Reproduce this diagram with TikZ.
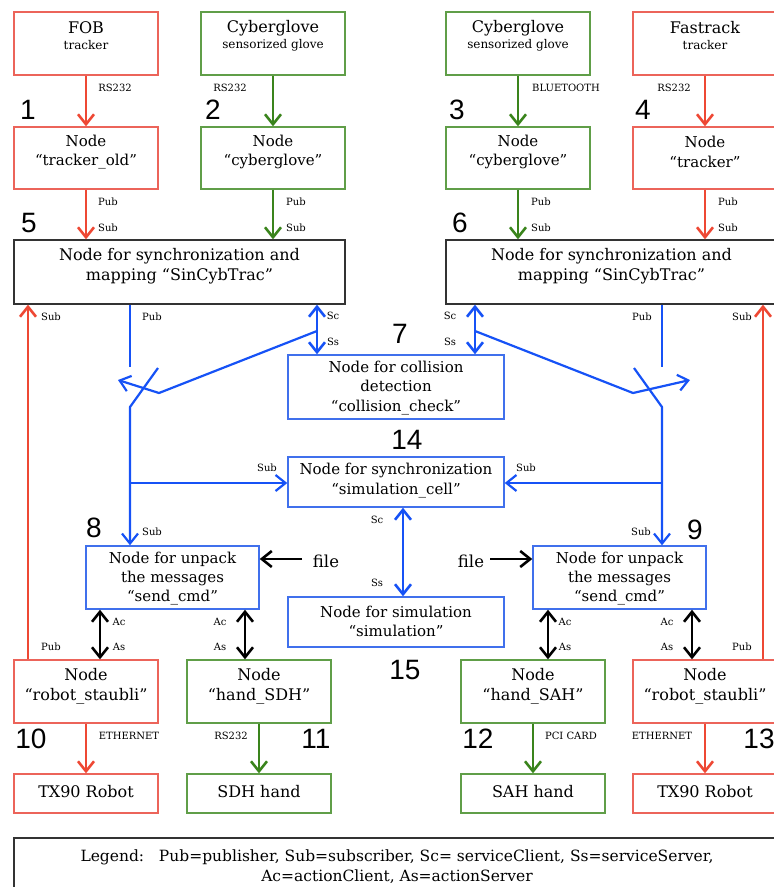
\documentclass[tikz,border=0pt]{standalone}
\usepackage{fontspec}
\setmainfont{DejaVu Serif}
\newfontfamily\numfont{Liberation Sans}
\usetikzlibrary{arrows.meta}
\definecolor{redA}{RGB}{238,72,52}
\definecolor{redB}{RGB}{236,100,90}
\definecolor{greenA}{RGB}{58,132,28}
\definecolor{greenB}{RGB}{96,158,72}
\definecolor{blueA}{RGB}{22,82,246}
\definecolor{blueB}{RGB}{64,112,236}
\tikzset{
 bx/.style={draw, line width=1.3pt, minimum width=144pt, minimum height=63pt, inner sep=0pt},
 rbox/.style={bx, draw=redB},
 gbox/.style={bx, draw=greenB},
 bbox/.style={bx, draw=blueB, line width=1.4pt},
 kbox/.style={draw=black!80, line width=1.3pt, inner sep=0pt},
 txt/.style={align=center, font=\fontsize{15}{19.5}\selectfont, inner sep=0pt},
 bigtxt/.style={align=center, font=\fontsize{16}{20}\selectfont, inner sep=0pt},
 ttl/.style={font=\fontsize{16}{18}\selectfont, inner sep=0pt},
 subtxt/.style={font=\fontsize{12}{13}\selectfont, inner sep=0pt},
 lab/.style={font=\fontsize{10}{12}\selectfont, inner sep=0pt},
 num/.style={font=\numfont\fontsize{28}{30}\selectfont, inner sep=0pt},
 legtxt/.style={align=center, font=\fontsize{15.5}{20}\selectfont, inner sep=0pt},
 arr/.style={-{Straight Barb[length=10pt,width=16pt]}},
 darr/.style={{Straight Barb[length=10pt,width=16pt]}-{Straight Barb[length=10pt,width=16pt]}},
 conn/.style={line width=2.6pt, line cap=butt},
}
\begin{document}
\begin{tikzpicture}[x=1pt,y=-1pt]
\useasboundingbox (0,0) rectangle (774,887);
% ---------- top row
\node[rbox] (fob) at (86,43.5) {};
\node[gbox] (cgL) at (273,43.5) {};
\node[gbox] (cgR) at (518,43.5) {};
\node[rbox] (fast) at (705,43.5) {};
\node[ttl] (fobT) at (86,28) {FOB};
\node[subtxt] (fobS) at (86,45) {tracker};
\node[ttl] (cgLT) at (273,28) {Cyberglove};
\node[subtxt] (cgLS) at (273,45) {sensorized glove};
\node[ttl] (cgRT) at (518,28) {Cyberglove};
\node[subtxt] (cgRS) at (518,45) {sensorized glove};
\node[ttl] (fastT) at (705,28) {Fastrack};
\node[subtxt] (fastS) at (705,45) {tracker};
% ---------- second row
\node[rbox, minimum height=62pt] (trOld) at (86,158) {};
\node[gbox, minimum height=62pt] (cybL) at (273,158) {};
\node[gbox, minimum height=62pt] (cybR) at (518,158) {};
\node[rbox, minimum height=62pt] (trk) at (705,158) {};
\node[txt] (trOldT) at (86,152) {Node\\“tracker\_old”};
\node[txt] (cybLT) at (273,152) {Node\\“cyberglove”};
\node[txt] (cybRT) at (518,152) {Node\\“cyberglove”};
\node[txt] (trkT) at (705,152) {Node\\“tracker”};
% ---------- sync boxes
\node[kbox, minimum width=331pt, minimum height=64pt] (syncL) at (179.5,272) {};
\node[kbox, minimum width=331pt, minimum height=64pt] (syncR) at (611.5,272) {};
\node[bigtxt] (syncLT) at (179.5,266) {Node for synchronization and\\mapping “SinCybTrac”};
\node[bigtxt] (syncRT) at (611.5,266) {Node for synchronization and\\mapping “SinCybTrac”};
% ---------- middle boxes
\node[bbox, minimum width=216pt, minimum height=64pt] (coll) at (396,387) {};
\node[txt] (collT) at (396,388) {Node for collision\\detection\\“collision\_check”};
\node[bbox, minimum width=216pt, minimum height=50pt] (cell) at (396,482) {};
\node[txt] (cellT) at (396,480.5) {Node for synchronization\\“simulation\_cell”};
\node[bbox, minimum width=216pt, minimum height=50pt] (sim) at (396,622) {};
\node[txt] (simT) at (396,621.5) {Node for simulation\\“simulation”};
\node[bbox, minimum width=173pt, minimum height=63pt] (sendL) at (172.5,577.5) {};
\node[bbox, minimum width=173pt, minimum height=63pt] (sendR) at (619.5,577.5) {};
\node[txt, font=\fontsize{15}{19}\selectfont] (sendLT) at (172.5,579) {Node for unpack\\the messages\\“send\_cmd”};
\node[txt, font=\fontsize{15}{19}\selectfont] (sendRT) at (619.5,579) {Node for unpack\\the messages\\“send\_cmd”};
% ---------- fourth row
\node[rbox] (robL) at (86,691.5) {};
\node[gbox] (sdh) at (259,691.5) {};
\node[gbox] (sah) at (533,691.5) {};
\node[rbox] (robR) at (705,691.5) {};
\node[bigtxt] (robLT) at (86,686) {Node\\“robot\_staubli”};
\node[bigtxt] (sdhT) at (259,686) {Node\\“hand\_SDH”};
\node[bigtxt] (sahT) at (533,686) {Node\\“hand\_SAH”};
\node[bigtxt] (robRT) at (705,686) {Node\\“robot\_staubli”};
% ---------- bottom row
\node[rbox, minimum height=39pt] (txL) at (86,793.5) {};
\node[gbox, minimum height=39pt] (sdhh) at (259,793.5) {};
\node[gbox, minimum height=39pt] (sahh) at (533,793.5) {};
\node[rbox, minimum height=39pt] (txR) at (705,793.5) {};
\node[bigtxt] (txLT) at (86,792) {TX90 Robot};
\node[bigtxt] (sdhhT) at (259,792) {SDH hand};
\node[bigtxt] (sahhT) at (533,792) {SAH hand};
\node[bigtxt] (txRT) at (705,792) {TX90 Robot};
% ---------- legend
\node[kbox, minimum width=780pt, minimum height=70pt] (leg) at (404,873) {};
\node[legtxt] (legT) at (397,867) {Legend:\ \ \ Pub=publisher, Sub=subscriber, Sc= serviceClient, Ss=serviceServer,\\Ac=actionClient, As=actionServer};
% ---------- numbers
\node[num] (n1) at (28,110) {1};
\node[num] (n2) at (213,110) {2};
\node[num] (n3) at (457,110) {3};
\node[num] (n4) at (643,110) {4};
\node[num] (n5) at (29,223) {5};
\node[num] (n6) at (460,223) {6};
\node[num] (n7) at (400,334) {7};
\node[num] (n14) at (407,440) {14};
\node[num] (n8) at (94,528) {8};
\node[num] (n9) at (695,530) {9};
\node[num] (n15) at (405,670) {15};
\node[num] (n10) at (31,739) {10};
\node[num] (n11) at (316,739) {11};
\node[num] (n12) at (478,739) {12};
\node[num] (n13) at (759,739) {13};
% ---------- top connectors
\draw[conn, redA, arr] (fob.south) -- (trOld.north);
\draw[conn, greenA, arr] (cgL.south) -- (cybL.north);
\draw[conn, greenA, arr] (cgR.south) -- (cybR.north);
\draw[conn, redA, arr] (fast.south) -- (trk.north);
\draw[conn, redA, arr] (trOld.south) -- (trOld.south |- syncL.north);
\draw[conn, greenA, arr] (cybL.south) -- (cybL.south |- syncL.north);
\draw[conn, greenA, arr] (cybR.south) -- (cybR.south |- syncR.north);
\draw[conn, redA, arr] (trk.south) -- (trk.south |- syncR.north);
\node[lab] (l1) at (115,88) {RS232};
\node[lab] (l2) at (230,88) {RS232};
\node[lab] (l3) at (566,88) {BLUETOOTH};
\node[lab] (l4) at (674,88) {RS232};
\node[lab] (p1) at (108,202) {Pub};
\node[lab] (s1) at (108,228) {Sub};
\node[lab] (p2) at (296,202) {Pub};
\node[lab] (s2) at (296,228) {Sub};
\node[lab] (p3) at (541,202) {Pub};
\node[lab] (s3) at (541,228) {Sub};
\node[lab] (p4) at (728,202) {Pub};
\node[lab] (s4) at (728,228) {Sub};
% ---------- long red feedback
\draw[conn, redA, arr] ([xshift=-58pt]robL.north) -- ([xshift=-58pt]robL.north |- syncL.south);
\draw[conn, redA, arr] ([xshift=58pt]robR.north) -- ([xshift=58pt]robR.north |- syncR.south);
\node[lab] (sL) at (51,317) {Sub};
\node[lab] (sR) at (742,317) {Sub};
\node[lab] (pL) at (51,647) {Pub};
\node[lab] (pR) at (742,647) {Pub};
% ---------- blue network, left
\coordinate (scL) at (317,331);
\coordinate (bendL) at (159,393);
\coordinate (tipL) at (118,380);
\coordinate (pubL) at (130,367);
\coordinate (crsL) at (158,368);
\coordinate (kneeL) at (130,407);
\coordinate (brL) at (130,483);
\draw[conn, blueA, darr] (syncL.south -| scL) -- (coll.north -| scL);
\draw[conn, blueA, line width=2.2pt, arr] (scL) -- (bendL) -- (tipL);
\draw[conn, blueA, line width=2.2pt] (syncL.south -| pubL) -- (pubL);
\draw[conn, blueA, line width=2.2pt, arr] (crsL) -- (kneeL) -- (sendL.north -| kneeL);
\draw[conn, blueA, line width=2.2pt, arr] (brL) -- (cell.west |- brL);
% ---------- blue network, right
\coordinate (scR) at (475,331);
\coordinate (bendR) at (633,393);
\coordinate (tipR) at (690,380);
\coordinate (pubR) at (662,367);
\coordinate (crsR) at (634,368);
\coordinate (kneeR) at (662,407);
\coordinate (brR) at (662,483);
\draw[conn, blueA, darr] (syncR.south -| scR) -- (coll.north -| scR);
\draw[conn, blueA, line width=2.2pt, arr] (scR) -- (bendR) -- (tipR);
\draw[conn, blueA, line width=2.2pt] (syncR.south -| pubR) -- (pubR);
\draw[conn, blueA, line width=2.2pt, arr] (crsR) -- (kneeR) -- (sendR.north -| kneeR);
\draw[conn, blueA, line width=2.2pt, arr] (brR) -- (cell.east |- brR);
% ---------- cell to sim
\draw[conn, blueA, darr] ([xshift=7pt]cell.south) -- ([xshift=7pt]sim.north);
\node[lab] (scl) at (333,316) {Sc};
\node[lab] (ssl) at (333,342) {Ss};
\node[lab] (scr) at (450,316) {Sc};
\node[lab] (ssr) at (450,342) {Ss};
\node[lab] (publ) at (152,317) {Pub};
\node[lab] (pubr) at (642,317) {Pub};
\node[lab] (subc1) at (267,468) {Sub};
\node[lab] (subc2) at (526,468) {Sub};
\node[lab] (subs1) at (152,532) {Sub};
\node[lab] (subs2) at (641,532) {Sub};
\node[lab] (scm) at (377,520) {Sc};
\node[lab] (ssm) at (377,583) {Ss};
% ---------- file inputs
\node[txt, font=\fontsize{16.5}{19}\selectfont] (fileL) at (326,561) {file};
\node[txt, font=\fontsize{16.5}{19}\selectfont] (fileR) at (471,561) {file};
\coordinate (faL) at (302,559);
\coordinate (faR) at (490,559);
\draw[conn, black, arr] (faL) -- (sendL.east |- faL);
\draw[conn, black, arr] (faR) -- (sendR.west |- faR);
% ---------- action arrows
\draw[conn, black, darr] ([xshift=-72.5pt]sendL.south) -- ([xshift=-72.5pt]sendL.south |- robL.north);
\draw[conn, black, darr] ([xshift=72.5pt]sendL.south) -- ([xshift=72.5pt]sendL.south |- sdh.north);
\draw[conn, black, darr] ([xshift=-71.5pt]sendR.south) -- ([xshift=-71.5pt]sendR.south |- sah.north);
\draw[conn, black, darr] ([xshift=72.5pt]sendR.south) -- ([xshift=72.5pt]sendR.south |- robR.north);
\node[lab] (ac1) at (119,622) {Ac};
\node[lab] (as1) at (119,647) {As};
\node[lab] (ac2) at (220,622) {Ac};
\node[lab] (as2) at (220,647) {As};
\node[lab] (ac3) at (565,622) {Ac};
\node[lab] (as3) at (565,647) {As};
\node[lab] (ac4) at (667,622) {Ac};
\node[lab] (as4) at (667,647) {As};
% ---------- bottom connectors
\draw[conn, redA, arr] (robL.south) -- (txL.north);
\draw[conn, greenA, arr] (sdh.south) -- (sdhh.north);
\draw[conn, greenA, arr] (sah.south) -- (sahh.north);
\draw[conn, redA, arr] (robR.south) -- (txR.north);
\node[lab] (e1) at (129,736) {ETHERNET};
\node[lab] (e2) at (231,736) {RS232};
\node[lab] (e3) at (571,736) {PCI CARD};
\node[lab] (e4) at (662,736) {ETHERNET};
\end{tikzpicture}
\end{document}
